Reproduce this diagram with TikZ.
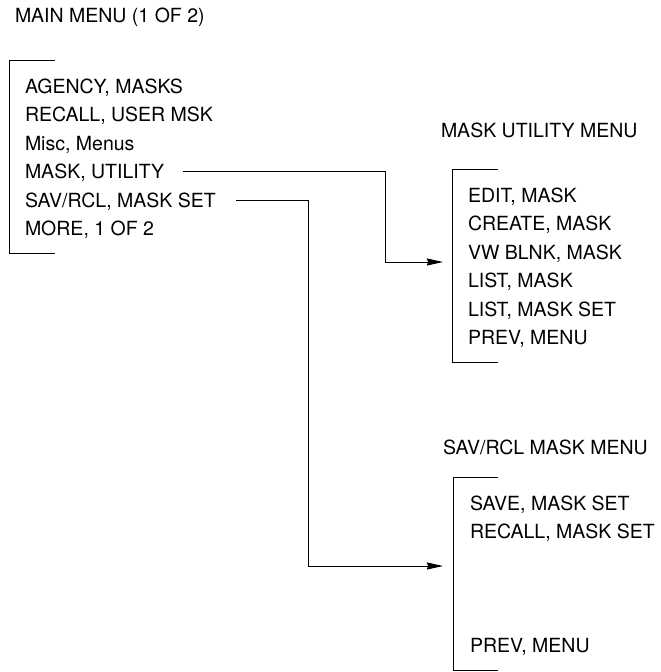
\documentclass[tikz,border=0pt]{standalone}
\usepackage{fontspec}
\setmainfont{TeX Gyre Heros}
\usetikzlibrary{arrows.meta}
\begin{document}
\begin{tikzpicture}[x=1pt,y=-1pt,
  txt/.style={anchor=west,inner sep=0pt,outer sep=0pt,text height=14pt,text depth=0pt,font=\fontsize{19.5pt}{22pt}\selectfont},
  brk/.style={line width=1pt,line join=miter},
  conn/.style={line width=1pt},
  arr/.style={conn,-{Stealth[length=16pt,width=7pt,inset=1pt]}}]
\useasboundingbox (0,0) rectangle (661,672);
% titles
\node[txt] (t1) at (15,15) {MAIN MENU (1 OF 2)};
\node[txt] (t2) at (441,130) {MASK UTILITY MENU};
\node[txt] (t3) at (443,447) {SAV/RCL MASK MENU};
% main menu
\draw[brk] (55,60) -- (9,60) -- (9,253) -- (55,253);
\node[txt] (m1) at (25,86) {AGENCY, MASKS};
\node[txt] (m2) at (25,114.5) {RECALL, USER MSK};
\node[txt] (m3) at (25,143) {Misc, Menus};
\node[txt] (m4) at (25,171.5) {MASK, UTILITY};
\node[txt] (m5) at (25,200) {SAV/RCL, MASK SET};
\node[txt] (m6) at (25,228.5) {MORE, 1 OF 2};
% mask utility menu
\draw[brk] (498,169) -- (452,169) -- (452,362) -- (498,362);
\node[txt] (u1) at (468,195) {EDIT, MASK};
\node[txt] (u2) at (468,223.5) {CREATE, MASK};
\node[txt] (u3) at (468,252) {VW BLNK, MASK};
\node[txt] (u4) at (468,280.5) {LIST, MASK};
\node[txt] (u5) at (468,309) {LIST, MASK SET};
\node[txt] (u6) at (468,337.5) {PREV, MENU};
% sav/rcl menu
\draw[brk] (498,477) -- (453,477) -- (453,670) -- (498,670);
\node[txt] (s1) at (470,503) {SAVE, MASK SET};
\node[txt] (s2) at (470,531.5) {RECALL, MASK SET};
\node[txt] (s6) at (470,645) {PREV, MENU};
% connectors
\coordinate (uin) at (443,262);
\coordinate (sin) at (443,566);
\coordinate (uturn) at (385,262);
\coordinate (sturn) at (308,566);
\draw[arr,shorten <=19pt] (m4.east) -| (uturn) -- (uin);
\draw[arr,shorten <=20pt] (m5.east) -| (sturn) -- (sin);
\end{tikzpicture}
\end{document}
